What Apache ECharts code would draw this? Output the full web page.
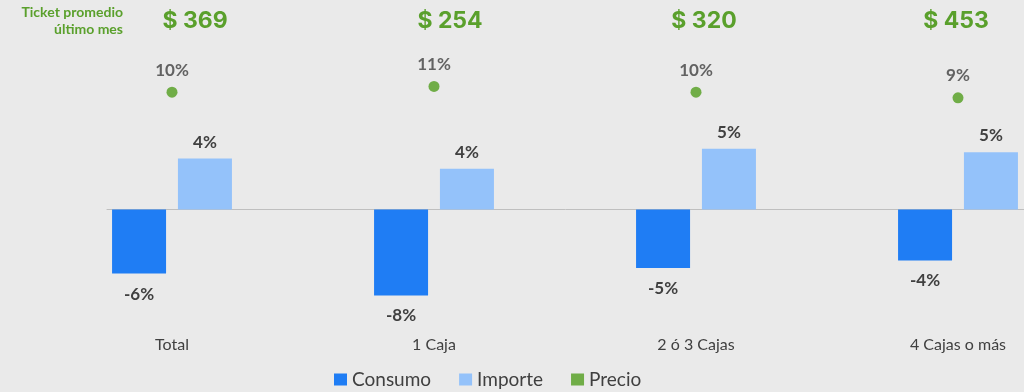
<!DOCTYPE html>
<html>
<head>
<meta charset="utf-8">
<script src="https://cdn.jsdelivr.net/npm/echarts@6/dist/echarts.min.js"></script>
<style>
html,body{margin:0;padding:0;background:#EAEAEA;}
#c{width:1024px;height:392px;}
</style>
</head>
<body>
<div id="c"></div>
<script>
const categories = ['Total', '1 Caja', '2 ó 3 Cajas', '4 Cajas o más'];
const ticketLabels = ['$ 369', '$ 254', '$ 320', '$ 453'];
const consumo = [-5.6, -7.5, -5.1, -4.45];
const importe = [4.45, 3.55, 5.3, 5.0];
const precio = [10, 11, 10, 9];
const headerText = 'Ticket promedio\núltimo mes';

const pct = v => (v < 0 ? '-' : '') + Math.round(Math.abs(v)) + '%';
const dark = '#404040';
const green = '#5AA02C';
const font = 'Lato';
const tStyle = (pad) => ({ color: green, fontSize: 23, fontWeight: 'bold', fontFamily: 'Inter', padding: pad });

const chart = echarts.init(document.getElementById('c'));
chart.setOption({
  backgroundColor: '#EAEAEA',
  animation: false,
  textStyle: { fontFamily: font },
  graphic: [{
    type: 'text',
    x: 123, y: 4,
    style: {
      text: headerText, align: 'right', fill: green,
      font: 'bold 14px Lato', lineHeight: 17
    }
  }],
  legend: {
    left: 329, top: 365,
    icon: 'rect', itemWidth: 13, itemHeight: 12, itemGap: 28,
    textStyle: { color: dark, fontSize: 19, fontFamily: font },
    data: ['Consumo', 'Importe', 'Precio']
  },
  grid: [
    { left: 172, right: 66, top: 95, height: 229 },
    { left: 107, right: 0, top: 95, height: 229 }
  ],
  xAxis: [
    {
      type: 'category', gridIndex: 0, data: categories, boundaryGap: false,
      axisLine: { show: false, onZero: false }, axisTick: { show: false },
      axisLabel: { color: dark, fontSize: 16, margin: 13, fontFamily: font }
    },
    {
      type: 'category', gridIndex: 0, position: 'top', data: ticketLabels, boundaryGap: false,
      axisLine: { show: false }, axisTick: { show: false },
      axisLabel: {
        margin: 62,
        formatter: (v, i) => '{t' + i + '|' + v + '}',
        rich: {
          t0: tStyle([0, 0, 0, 46]),
          t1: tStyle([0, 0, 0, 32]),
          t2: tStyle([0, 0, 0, 16]),
          t3: tStyle([0, 4, 0, 0])
        }
      }
    },
    {
      type: 'value', gridIndex: 1, min: 0, max: 1, show: true,
      axisLine: { show: true, onZero: true, lineStyle: { color: '#BFBFBF', width: 1 } },
      axisTick: { show: false }, axisLabel: { show: false }, splitLine: { show: false }
    }
  ],
  yAxis: [
    { type: 'value', gridIndex: 0, min: -10, max: 10, show: false, splitLine: { show: false } },
    { type: 'value', gridIndex: 0, min: -30.5, max: 9.5, show: false, splitLine: { show: false } },
    { type: 'value', gridIndex: 1, min: -10, max: 10, show: false, splitLine: { show: false } }
  ],
  series: [
    {
      name: 'Consumo', type: 'bar', xAxisIndex: 0, yAxisIndex: 0,
      data: consumo, barWidth: 54, barGap: '22%',
      itemStyle: { color: '#1F7DF4' },
      label: { show: true, position: 'bottom', distance: 12, color: dark, fontSize: 17, fontWeight: 'bold', formatter: p => pct(p.value) }
    },
    {
      name: 'Importe', type: 'bar', xAxisIndex: 0, yAxisIndex: 0,
      data: importe, barWidth: 54,
      itemStyle: { color: '#94C2FA' },
      label: { show: true, position: 'top', distance: 8, color: dark, fontSize: 17, fontWeight: 'bold', formatter: p => pct(p.value) }
    },
    {
      name: 'Precio', type: 'scatter', xAxisIndex: 0, yAxisIndex: 1,
      data: precio, symbolSize: 11, clip: false,
      itemStyle: { color: '#519E1E' },
      label: { show: true, position: 'top', distance: 8, color: dark, fontSize: 17, fontWeight: 'bold', formatter: p => pct(p.value) }
    }
  ]
});
</script>
</body>
</html>
